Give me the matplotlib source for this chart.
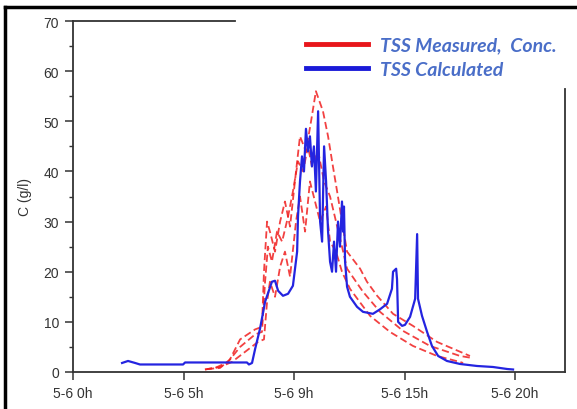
import matplotlib
matplotlib.use('Agg')
import matplotlib.pyplot as plt
from matplotlib.lines import Line2D
from matplotlib.ticker import MultipleLocator

plt.rcParams['font.family'] = ['Liberation Sans', 'DejaVu Sans']

# time in hours since 5-6 0h, concentration in g/l
calc_t = [2.22, 2.49, 2.81, 3.03, 4.98, 5.07, 7.87, 7.96, 8.10, 8.24, 8.46, 8.69, 9.00, 9.14, 9.28,
          9.50, 9.73, 9.95, 10.14, 10.18, 10.27, 10.36, 10.45, 10.54, 10.63, 10.72, 10.81, 10.90,
          10.99, 11.09, 11.18, 11.27, 11.36, 11.45, 11.54, 11.63, 11.72, 11.81, 11.90, 11.99,
          12.08, 12.17, 12.22, 12.26, 12.31, 12.40, 12.53, 12.85, 13.12, 13.57, 13.89, 14.21,
          14.43, 14.48, 14.62, 14.66, 14.71, 14.89, 15.02, 15.25, 15.48, 15.57, 15.61, 15.79,
          16.02, 16.24, 16.52, 16.92, 17.51, 18.28, 19.00, 19.64, 19.91]
calc_c = [1.8, 2.2, 1.8, 1.5, 1.5, 1.9, 1.9, 1.5, 1.8, 4.6, 8.6, 14.0, 18.0, 18.2, 16.2,
          15.2, 15.6, 17.2, 24.0, 31.0, 38.0, 43.0, 40.0, 48.5, 44.0, 47.0, 41.0, 45.0,
          36.0, 52.0, 30.0, 26.0, 45.0, 38.0, 28.0, 22.0, 20.0, 26.0, 20.0, 30.0,
          25.0, 34.0, 28.0, 33.0, 22.0, 17.0, 15.0, 13.0, 12.0, 11.6, 12.5, 13.6,
          16.6, 20.0, 20.6, 18.5, 10.0, 9.2, 9.4, 11.0, 14.6, 27.5, 14.6, 11.2,
          8.0, 5.2, 3.2, 2.2, 1.6, 1.2, 1.0, 0.6, 0.5]

meas_hi_t = [6.06, 6.65, 7.10, 7.56, 8.24, 8.55, 8.64, 8.78, 8.91, 9.14, 9.37, 9.59, 9.82, 10.09,
             10.27, 10.54, 10.77, 10.99, 11.31, 11.54, 11.76, 11.95, 12.17, 12.40, 12.99, 13.30,
             13.76, 14.48, 15.38, 16.47, 17.96]
meas_hi_c = [0.6, 0.8, 2.5, 6.5, 8.5, 9.0, 20.0, 30.0, 28.0, 24.0, 30.0, 34.0, 29.0, 40.0,
             47.0, 44.0, 50.0, 56.0, 52.0, 47.0, 41.0, 36.0, 30.0, 24.0, 20.6, 18.0,
             15.2, 11.6, 9.2, 6.0, 3.2]

meas_mid_t = [5.97, 6.43, 7.01, 7.56, 8.24, 8.55, 8.69, 8.82, 9.00, 9.23, 9.46, 9.73, 9.95, 10.18,
              10.41, 10.63, 10.81, 11.09, 11.36, 11.63, 11.90, 12.17, 12.40, 13.12, 13.89, 14.93,
              16.15, 17.51, 18.05]
meas_mid_c = [0.5, 0.8, 2.0, 5.0, 7.5, 8.0, 18.0, 25.0, 22.0, 28.0, 26.0, 31.0, 36.0, 42.0,
              40.0, 45.0, 41.0, 44.0, 38.0, 35.0, 30.0, 25.0, 20.6, 16.0, 12.0, 8.2,
              5.2, 3.2, 2.8]

meas_lo_t = [5.97, 6.65, 7.19, 7.78, 8.37, 8.64, 8.78, 8.91, 9.14, 9.37, 9.59, 9.82, 10.09, 10.27,
             10.50, 10.72, 10.95, 11.18, 11.45, 11.63, 11.90, 12.17, 12.53, 13.44, 14.34, 15.38,
             16.47, 17.51, 17.65]
meas_lo_c = [0.5, 1.0, 2.0, 4.0, 6.0, 6.5, 14.0, 18.0, 15.0, 21.0, 24.0, 19.0, 30.0, 35.0,
             28.0, 38.0, 34.0, 30.0, 33.0, 26.0, 24.0, 20.0, 16.6, 11.2, 8.0, 5.2,
             3.2, 2.0, 1.8]

x_ticks = [0, 5, 10, 15, 20]
x_labels = ['5-6 0h', '5-6 5h', '5-6 9h', '5-6 15h', '5-6 20h']

fig = plt.figure(figsize=(5.77, 4.10), dpi=100)
ax = fig.add_axes([73/577, 37/410, 492/577, 351/410])

for t, c in [(meas_hi_t, meas_hi_c), (meas_mid_t, meas_mid_c), (meas_lo_t, meas_lo_c)]:
    ax.plot(t, c, color='#f02020', lw=1.3, ls=(0, (4, 2)), alpha=0.85)
ax.plot(calc_t, calc_c, color='#2424e0', lw=1.6)

ax.set_xlim(0, 22.26)
ax.set_ylim(0, 70)
ax.set_xticks(x_ticks)
ax.set_xticklabels(x_labels)
ax.yaxis.set_major_locator(MultipleLocator(10))
ax.yaxis.set_minor_locator(MultipleLocator(5))
ax.tick_params(axis='both', which='major', length=6, width=1.1, color='#333333',
               labelsize=10, labelcolor='#333333', pad=4)
ax.tick_params(axis='y', which='minor', length=3, width=1.0, color='#333333')
ax.set_ylabel('C (g/l)', fontsize=10, color='#333333', labelpad=8)

for s in ax.spines.values():
    s.set_color('#333333')
    s.set_linewidth(1.3)
ax.spines['top'].set_visible(False)
ax.spines['right'].set_bounds(0, 56.5)
# short piece of top frame left of the legend
ax.plot([0, 0.33], [1, 1], transform=ax.transAxes, color='#333333', lw=1.3, clip_on=False)

handles = [Line2D([], [], color='#e8161b', lw=3.5), Line2D([], [], color='#1a1ad8', lw=3.5)]
ax.legend(handles, ['TSS Measured,  Conc.', 'TSS Calculated'], loc='upper left',
          bbox_to_anchor=(296/577, 1 - 28/410), bbox_transform=fig.transFigure,
          frameon=False, handlelength=3.2, handletextpad=0.6, labelspacing=0.35,
          borderpad=0, labelcolor='#4a6ec8',
          prop={'family': 'Lato', 'style': 'italic', 'weight': 'bold', 'size': 14})

# outer border (top and left)
fig.add_artist(Line2D([5/577, 1], [1 - 8/410, 1 - 8/410], color='black', lw=2.5))
fig.add_artist(Line2D([5/577, 5/577], [0, 1 - 8/410], color='black', lw=2.5))

fig.savefig('out.png', dpi=100)
